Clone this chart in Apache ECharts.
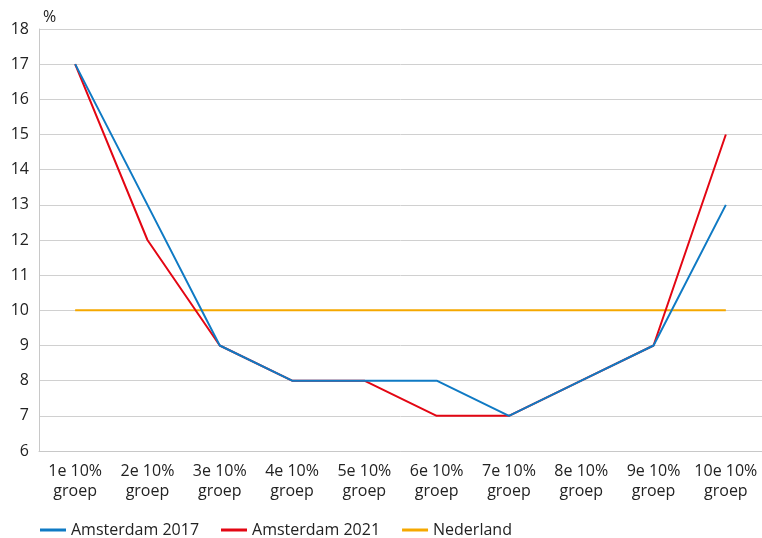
<!DOCTYPE html>
<html><head><meta charset="utf-8">
<script src="https://cdn.jsdelivr.net/npm/echarts@6/dist/echarts.min.js"></script>
<style>html,body{margin:0;padding:0;background:#fff}#c{width:762px;height:538px}</style>
</head><body><div id="c"></div>
<script>
const categories = ['1e 10%\ngroep','2e 10%\ngroep','3e 10%\ngroep','4e 10%\ngroep','5e 10%\ngroep','6e 10%\ngroep','7e 10%\ngroep','8e 10%\ngroep','9e 10%\ngroep','10e 10%\ngroep'];
const ams2017 = [17, 13, 9, 8, 8, 8, 7, 8, 9, 13];
const ams2021 = [17, 12, 9, 8, 8, 7, 7, 8, 9, 15];
const nederland = [10, 10, 10, 10, 10, 10, 10, 10, 10, 10];
const FONT = '"Open Sans", Lato, sans-serif';
const chart = echarts.init(document.getElementById('c'));
chart.setOption({
  animation: false,
  textStyle: {fontFamily: FONT},
  grid: {left: 39, right: 0, top: 29, bottom: 87},
  legend: {
    left: 35, top: 517, itemWidth: 26, itemHeight: 3, itemGap: 22,
    icon: 'rect',
    textStyle: {fontFamily: FONT, fontSize: 16, color: '#222'},
    data: ['Amsterdam 2017', 'Amsterdam 2021', 'Nederland']
  },
  xAxis: {
    type: 'category', data: categories, boundaryGap: true,
    axisLine: {lineStyle: {color: '#c8c8c8'}},
    axisTick: {show: false},
    axisLabel: {fontFamily: FONT, fontSize: 16, color: '#222', lineHeight: 20, margin: 10, interval: 0}
  },
  yAxis: {
    type: 'value', min: 6, max: 18, interval: 1, name: '%',
    nameLocation: 'end', nameGap: 4,
    nameTextStyle: {fontFamily: FONT, fontSize: 16, color: '#222', align: 'left', padding: [0, 0, 0, 4]},
    axisLine: {show: true, lineStyle: {color: '#c8c8c8'}},
    axisTick: {show: false},
    splitLine: {lineStyle: {color: '#d0d0d0'}},
    axisLabel: {fontFamily: FONT, fontSize: 16, color: '#222', margin: 10}
  },
  series: [
    {name: 'Amsterdam 2017', type: 'line', data: ams2017, symbol: 'none', lineStyle: {width: 2, color: '#0f7ac4'}, itemStyle: {color: '#0f7ac4'}, z: 3},
    {name: 'Amsterdam 2021', type: 'line', data: ams2021, symbol: 'none', lineStyle: {width: 2, color: '#e30613'}, itemStyle: {color: '#e30613'}, z: 2},
    {name: 'Nederland', type: 'line', data: nederland, symbol: 'none', lineStyle: {width: 2, color: '#f5a800'}, itemStyle: {color: '#f5a800'}, z: 1}
  ]
});
</script></body></html>
